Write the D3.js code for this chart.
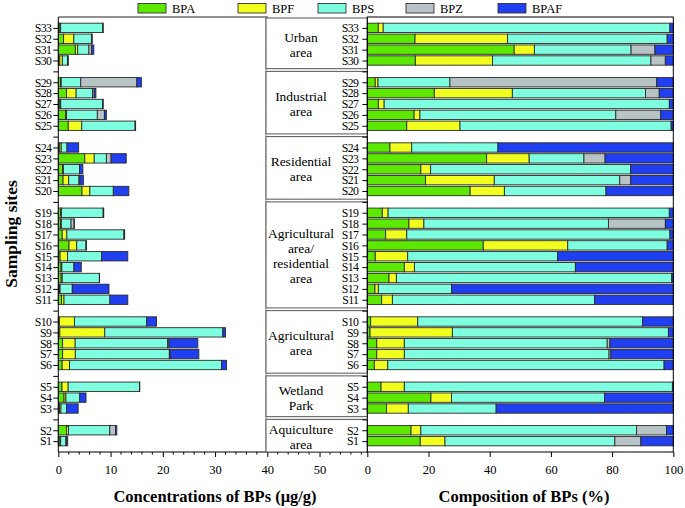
<!DOCTYPE html>
<html><head><meta charset="utf-8">
<script src="https://cdn.jsdelivr.net/npm/d3@7"></script>
<style>
html,body{margin:0;padding:0;background:#fff;}
svg text{font-family:"Liberation Serif","Times New Roman","DejaVu Serif",serif;fill:#000;}
</style></head>
<body>
<svg id="chart" width="685" height="508"></svg>
<script>
// ---------- DATA ----------
const sites = d3.range(1, 34).map(i => "S" + i);
const series = ["BPA", "BPF", "BPS", "BPZ", "BPAF"];
const colors = ["#5de800", "#f0ff1e", "#7dffe0", "#b8c3c6", "#1f3ff0"];
// total concentration (µg/g), S1..S33
const totals = [1.8, 11.2, 3.8, 5.3, 15.6, 32.2, 26.9, 26.7, 32.0, 18.8, 13.3, 9.7, 7.9, 4.4, 13.3, 5.4, 12.7, 3.1, 8.7, 13.5, 4.8, 4.7, 13.0, 3.9, 14.8, 9.2, 8.6, 7.2, 15.9, 1.9, 6.8, 6.5, 8.6];
// composition (%), S1..S33
const pctBPA  = [17.3, 14.3, 6.3, 20.8, 4.5, 2.3, 3.1, 3.1, 0.9, 1.1, 4.7, 2.5, 7.1, 12.1, 2.6, 37.9, 6.0, 13.6, 4.9, 33.6, 19.0, 17.5, 39.0, 7.4, 12.9, 15.3, 3.6, 21.9, 2.6, 15.7, 48.0, 15.6, 3.6];
const pctBPF  = [8.1, 3.2, 7.1, 6.7, 7.6, 4.4, 9.0, 9.0, 26.9, 15.4, 3.5, 1.1, 2.4, 3.3, 10.6, 27.6, 6.9, 4.9, 1.9, 11.2, 22.5, 3.2, 13.9, 7.1, 17.4, 1.9, 1.9, 25.5, 0.9, 25.2, 6.6, 30.2, 1.6];
const pctBPS  = [55.5, 70.5, 28.7, 50.0, 87.6, 90.3, 66.9, 66.3, 70.6, 73.5, 66.1, 24.0, 90.0, 52.6, 49.0, 32.5, 86.0, 60.3, 91.9, 33.2, 41.0, 65.4, 17.9, 28.2, 69.0, 64.0, 93.2, 43.5, 23.5, 51.8, 31.6, 52.2, 93.7];
const pctBPZ  = [8.5, 9.8, 0, 0, 0, 0, 0.6, 0.9, 0, 0, 0, 0, 0, 0, 0, 0, 0, 18.6, 0, 0, 3.6, 0, 6.9, 0, 0, 14.7, 0, 4.5, 67.6, 4.7, 7.8, 0, 0];
const pctBPAF = [10.6, 2.2, 57.9, 22.5, 0.3, 3.0, 20.4, 20.7, 1.6, 10.0, 25.7, 72.4, 0.5, 32.0, 37.8, 2.0, 1.1, 2.6, 1.3, 22.0, 13.9, 13.9, 22.3, 57.3, 0.7, 4.1, 1.3, 4.6, 5.4, 2.6, 6.0, 2.0, 1.1];
// groups (bottom to top)
const groupNames = [["Aquiculture", "area"], ["Wetland", "Park"], ["Agricultural", "area"], ["Agricultural", "area/", "residential", "area"], ["Residential", "area"], ["Industrial", "area"], ["Urban", "area"]];
const groupSizes = [2, 3, 5, 9, 5, 5, 4];
const leftTicks = [0, 10, 20, 30, 40, 50];
const rightTicks = [0, 20, 40, 60, 80, 100];
const xTitleLeft = "Concentrations of BPs (\u03bcg/g)";
const xTitleRight = "Composition of BPs (%)";
const yTitle = "Sampling sites";

// ---------- LAYOUT ----------
const svg = d3.select("#chart");
const plotTop = 17, plotBottom = 452;
const L0 = 58.3, Lend = 266, axisEnd = 367.3;
const R0 = 367.3, R1 = 673.3;
const legendX = [138, 238, 318, 406, 498];
const labelFont = '"Liberation Serif","Times New Roman","DejaVu Serif",serif';

// position of each site (with gap slots between groups)
const pos = [];
const groups = [];
let p = 1;
groupSizes.forEach((n, gi) => {
  const start = p;
  for (let k = 0; k < n; k++) pos.push(p++);
  groups.push({names: groupNames[gi], a: start, b: p - 1});
  p++; // gap
});
const y = d3.scaleLinear().domain([0, 40]).range([plotBottom, plotTop]);
const slot = (plotBottom - plotTop) / 40;
const barH = slot * 0.86;

const pctSeries = [pctBPA, pctBPF, pctBPS, pctBPZ, pctBPAF];
const rows = sites.map((s, i) => {
  const pcts = pctSeries.map(a => a[i]);
  const sum = d3.sum(pcts);
  let cumP = 0, cumC = 0;
  const segs = pcts.map((v, k) => {
    const conc = totals[i] * v / sum;
    const seg = {k, p0: cumP, p1: cumP + v / sum * 100, c0: cumC, c1: cumC + conc};
    cumP = seg.p1; cumC = seg.c1;
    return seg;
  });
  return {site: s, pos: pos[i], segs};
});

const xL = d3.scaleLinear().domain([0, 60]).range([L0, L0 + (267.3 - L0) * 60 / 40]);
const xR = d3.scaleLinear().domain([0, 100]).range([R0, R1]);

// ---------- LEGEND ----------
const lg = svg.append("g");
series.forEach((s, i) => {
  lg.append("rect").attr("x", legendX[i]).attr("y", 3.5).attr("width", 28).attr("height", 9.5)
    .attr("fill", colors[i]).attr("stroke", "#333").attr("stroke-width", 0.9);
  lg.append("text").attr("x", legendX[i] + 34).attr("y", 12.5).attr("font-size", 12.5).text(s);
});

// ---------- LEFT PANEL ----------
const gl = svg.append("g");
gl.append("line").attr("x1", L0).attr("x2", Lend + 2).attr("y1", plotTop).attr("y2", plotTop).attr("stroke", "#222").attr("stroke-width", 1);
gl.append("line").attr("x1", Lend).attr("x2", Lend).attr("y1", plotTop).attr("y2", plotBottom).attr("stroke", "#8a8a8a").attr("stroke-width", 1);

rows.forEach(r => {
  gl.selectAll(null).data(r.segs.filter(d => d.c1 - d.c0 > 0)).enter().append("rect")
    .attr("x", d => xL(d.c0)).attr("width", d => xL(d.c1) - xL(d.c0))
    .attr("y", y(r.pos) - barH / 2).attr("height", barH)
    .attr("fill", d => colors[d.k]).attr("stroke", "#2a2a2a").attr("stroke-width", 0.9);
});

// left y axis
const posToSite = {};
rows.forEach(r => posToSite[r.pos] = r.site);
const yAxisL = d3.axisLeft(y).tickValues(d3.range(1, 40)).tickSize(5).tickPadding(2)
  .tickFormat(v => posToSite[v] || "");
const gyl = svg.append("g").attr("transform", `translate(${L0},0)`).call(yAxisL);
gyl.select(".domain").remove();
gyl.append("line").attr("x1", 0).attr("x2", 0).attr("y1", plotTop).attr("y2", plotBottom).attr("stroke", "#000");
gyl.selectAll("text").attr("font-size", 11.8).attr("font-family", labelFont).attr("letter-spacing", -0.6).attr("fill", "#000");

// left x axis
const gxl = svg.append("g").attr("transform", `translate(0,${plotBottom})`)
  .call(d3.axisBottom(xL).tickValues(leftTicks).tickSize(5).tickPadding(8).tickFormat(d3.format("d")));
gxl.select(".domain").remove();
gxl.selectAll("text").attr("font-size", 12.5).attr("font-family", labelFont).attr("fill", "#000");
gxl.append("line").attr("x1", L0).attr("x2", axisEnd).attr("y1", 0).attr("y2", 0).attr("stroke", "#000");
gxl.selectAll(".minor").data(d3.range(2, 60, 2).filter(v => v % 10 !== 0 && xL(v) < axisEnd - 1)).enter()
  .append("line").attr("class", "minor").attr("x1", d => xL(d)).attr("x2", d => xL(d))
  .attr("y1", 0).attr("y2", 2.5).attr("stroke", "#000");

// ---------- MIDDLE BOXES ----------
const gm = svg.append("g");
groups.forEach(g => {
  const yTop = g.b + 1 >= 40 ? y(40) + 1 : y(g.b + 1);
  const yBot = g.a - 1 <= 0 ? y(0) : y(g.a - 1) - 2.7;
  gm.append("rect").attr("x", Lend).attr("y", yTop).attr("width", axisEnd - Lend).attr("height", yBot - yTop)
    .attr("fill", "#fff").attr("stroke", "#555").attr("stroke-width", 1);
  const cy = (yTop + yBot) / 2 + 1;
  const lh = 15;
  const n = g.names.length;
  g.names.forEach((t, i) => {
    gm.append("text").attr("x", 301).attr("y", cy + (i - (n - 1) / 2) * lh)
      .attr("dy", "0.35em").attr("text-anchor", "middle").attr("font-size", 13.5).text(t);
  });
});

// ---------- RIGHT PANEL ----------
const gr = svg.append("g");
rows.forEach(r => {
  gr.selectAll(null).data(r.segs.filter(d => d.p1 - d.p0 > 0)).enter().append("rect")
    .attr("x", d => xR(d.p0)).attr("width", d => xR(d.p1) - xR(d.p0))
    .attr("y", y(r.pos) - barH / 2).attr("height", barH)
    .attr("fill", d => colors[d.k]).attr("stroke", "#2a2a2a").attr("stroke-width", 0.9);
});
gr.append("rect").attr("x", R0).attr("y", plotTop).attr("width", R1 - R0).attr("height", plotBottom - plotTop)
  .attr("fill", "none").attr("stroke", "#000").attr("stroke-width", 1);

const gyr = svg.append("g").attr("transform", `translate(${R0},0)`).call(
  d3.axisLeft(y).tickValues(d3.range(1, 40)).tickSize(5).tickPadding(4).tickFormat(v => posToSite[v] || ""));
gyr.select(".domain").remove();
gyr.selectAll("text").attr("font-size", 11.8).attr("font-family", labelFont).attr("letter-spacing", -0.6).attr("fill", "#000");

const gxr = svg.append("g").attr("transform", `translate(0,${plotBottom})`)
  .call(d3.axisBottom(xR).tickValues(rightTicks).tickSize(5).tickPadding(8).tickSizeOuter(0));
gxr.select(".domain").remove();
gxr.selectAll("text").attr("font-size", 12.5).attr("font-family", labelFont).attr("fill", "#000");

// ---------- TITLES ----------
svg.append("text").attr("x", 215).attr("y", 502).attr("text-anchor", "middle")
  .attr("font-size", 16.5).attr("font-weight", "bold").text(xTitleLeft);
svg.append("text").attr("x", 524).attr("y", 502).attr("text-anchor", "middle")
  .attr("font-size", 16.5).attr("font-weight", "bold").text(xTitleRight);
svg.append("text").attr("transform", "translate(17,234) rotate(-90)").attr("text-anchor", "middle")
  .attr("font-size", 17.5).attr("font-weight", "bold").text(yTitle);
</script>
</body></html>
